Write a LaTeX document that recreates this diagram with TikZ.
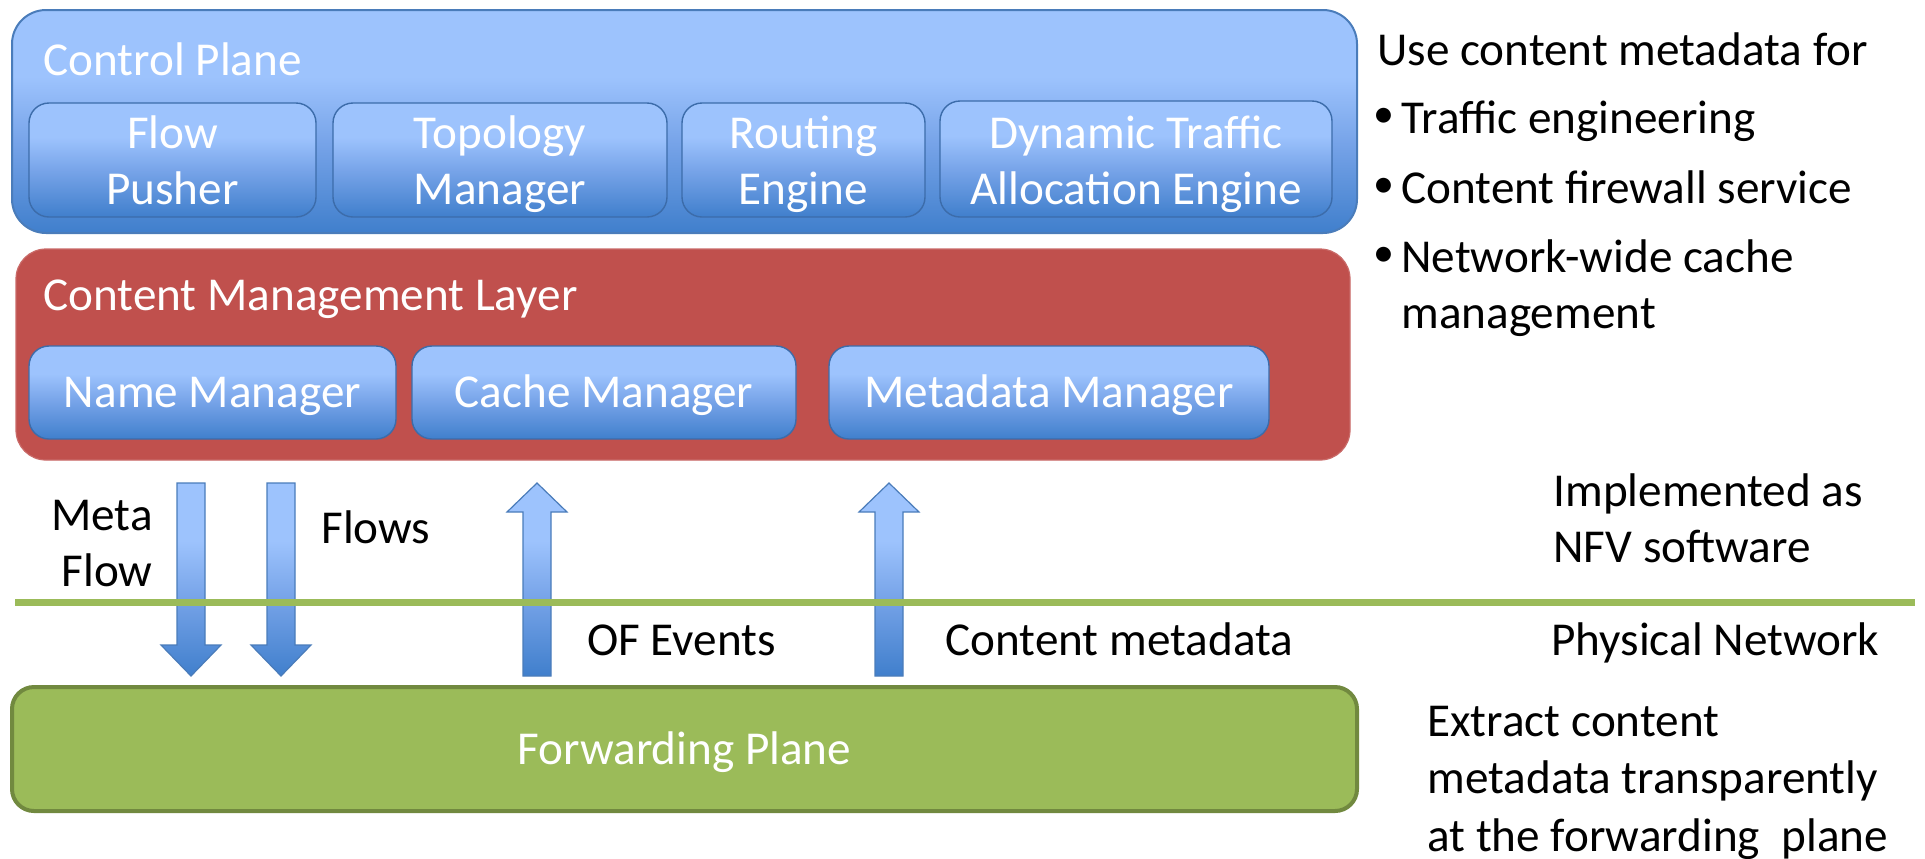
\documentclass[tikz,border=0pt]{standalone}
\usepackage{fontspec}
\setmainfont{Carlito}
\usetikzlibrary{fit}

\definecolor{bluetop}{RGB}{157,195,253}
\definecolor{bluemid}{RGB}{118,163,232}
\definecolor{bluebot}{RGB}{64,127,204}
\definecolor{blueedge}{RGB}{74,124,186}
\definecolor{blueline}{RGB}{60,108,170}
\definecolor{redfill}{RGB}{192,80,77}
\definecolor{greenfill}{RGB}{155,187,89}
\definecolor{greenedge}{RGB}{113,137,63}

% light-to-dark blue fill used by the panels, modules and arrows
\pgfdeclareverticalshading{bluepanel}{100bp}{color(0bp)=(bluebot); color(25bp)=(bluebot); color(45bp)=(bluemid); color(60bp)=(bluetop); color(75bp)=(bluetop); color(100bp)=(bluetop)}

\tikzset{
  txt/.style={font=\fontsize{23.6}{28}\selectfont, inner sep=0pt},
  outerpanel/.style={fit={#1}, inner sep=0pt, rounded corners=17pt, draw=blueedge, line width=1pt, shade, shading=bluepanel},
  module/.style={fit={#1}, inner sep=0pt, rounded corners=10pt, draw=blueline, line width=0.7pt, shade, shading=bluepanel},
  cmlayer/.style={fit={#1}, inner sep=0pt, rounded corners=15pt, fill=redfill, draw=redfill!85!white, line width=0.6pt},
  fwdbox/.style={fit={#1}, inner sep=0pt, rounded corners=11pt, fill=greenfill, draw=greenedge, line width=2pt},
  inlabel/.style={txt, text=white, align=center, anchor=base},
  blockarrow/.style={draw=blueedge, line width=0.6pt, shade, shading=bluepanel},
  note/.style={txt, text=black, align=left, anchor=base west},
  bulletmark/.style={font=\fontsize{21}{21}\selectfont, inner sep=0pt, anchor=center},
}

% block arrows, given the centre line x
\newcommand\BlkDown[1]{\path[blockarrow] (#1-14,483) -- (#1+14,483) -- (#1+14,645) -- (#1+30,645) -- (#1,676) -- (#1-30,645) -- (#1-14,645) -- cycle;}
\newcommand\BlkUp[1]{\path[blockarrow] (#1,483) -- (#1+30,512) -- (#1+14,512) -- (#1+14,676) -- (#1-14,676) -- (#1-14,512) -- (#1-30,512) -- cycle;}

\begin{document}
\begin{tikzpicture}[x=0.5pt,y=-0.5pt]
\useasboundingbox (0,0) rectangle (1925,858);

% Control plane
\node[outerpanel={(12,10) (1357,233)}] (cp) {};
\node[txt, text=white, anchor=base west] (cptitle) at (43,75) {Control Plane};
\node[module={(29,103) (316,217)}] (flowpusher) {};
\node[module={(333,103) (667,217)}] (topo) {};
\node[module={(682,103) (925,217)}] (routing) {};
\node[module={(940,101) (1332,217)}] (dtae) {};
% two-line labels sit on the baseline of their last line
\node[inlabel] (flowpusherlbl) at (flowpusher.center |- 0,204) {Flow\\Pusher};
\node[inlabel] (topolbl) at (topo.center |- 0,204) {Topology\\Manager};
\node[inlabel] (routinglbl) at (routing.center |- 0,204) {Routing\\Engine};
\node[inlabel] (dtaelbl) at (dtae.center |- 0,204) {Dynamic Traffic\\Allocation Engine};

% Content management layer
\node[cmlayer={(16,249) (1350,460)}] (cml) {};
\node[txt, text=white, anchor=base west] (cmltitle) at (43,310) {Content Management Layer};
\node[module={(29,346) (396,439)}] (namemgr) {};
\node[module={(412,346) (796,439)}] (cachemgr) {};
\node[module={(829,346) (1269,439)}] (metamgr) {};
\node[inlabel] (namemgrlbl) at (namemgr.center |- 0,407) {Name Manager};
\node[inlabel] (cachemgrlbl) at (cachemgr.center |- 0,407) {Cache Manager};
\node[inlabel] (metamgrlbl) at (metamgr.center |- 0,407) {Metadata Manager};

% Forwarding plane
\node[fwdbox={(12,687) (1357,811)}] (fwd) {};
\node[inlabel] (fwdlbl) at (fwd.center |- 0,764) {Forwarding Plane};

% Arrows between the layers
\BlkDown{191}
\BlkDown{281}
\BlkUp{537}
\BlkUp{889}

% Boundary between software and physical network
\draw[greenfill, line width=3.5pt] (15,602) -- (1915,602);

% Arrow labels
\node[txt, align=right, anchor=base east] (lmeta) at (153,586) {Meta\\Flow};
\node[txt, anchor=base west] (lflows) at (321,543) {Flows};
\node[txt, anchor=base west] (lof) at (587,655) {OF Events};
\node[txt, anchor=base west] (lcmeta) at (945,655) {Content metadata};

% Side notes (multi-line notes are placed by their last baseline)
\node[note] (use) at (1377,65) {Use content metadata for};
\node[bulletmark] (b1) at (1384,118) {•};
\node[note] (t1) at (1401,133) {Traffic engineering};
\node[bulletmark] (b2) at (1384,188) {•};
\node[note] (t2) at (1401,203) {Content firewall service};
\node[bulletmark] (b3) at (1384,257) {•};
\node[note] (t3) at (1401,328) {Network-wide cache\\management};
\node[note] (nfv) at (1553,562) {Implemented as\\NFV software};
\node[note] (phys) at (1551,655) {Physical Network};
\node[note, font=\fontsize{23.6}{28.6}\selectfont] (extract) at (1427,851) {Extract content\\metadata transparently\\at the forwarding\ \ plane};
\end{tikzpicture}
\end{document}
